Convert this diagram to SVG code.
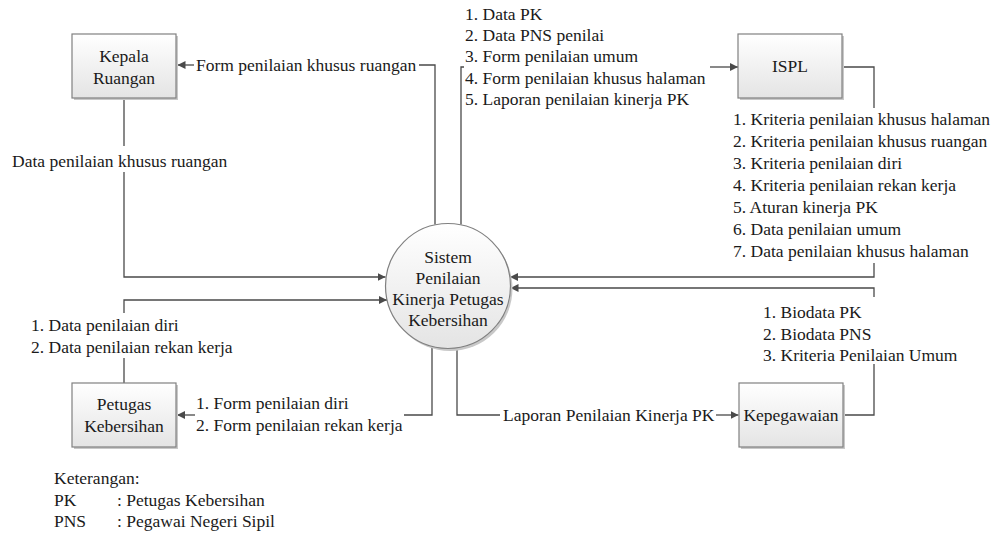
<svg xmlns="http://www.w3.org/2000/svg" width="995" height="534" viewBox="0 0 995 534" font-family="'Liberation Serif', 'Times New Roman', serif">
<defs>
<linearGradient id="g" x1="0" y1="0" x2="0" y2="1">
<stop offset="0" stop-color="#ffffff"/>
<stop offset="1" stop-color="#e4e4e4"/>
</linearGradient>
<marker id="arr" viewBox="0 0 10 10" refX="10" refY="5" markerWidth="8" markerHeight="8" markerUnits="userSpaceOnUse" orient="auto">
<path d="M0,0 L10,5 L0,10 z" fill="#4a4a4a"/>
</marker>
</defs>
<style>
text{font-family:"Liberation Serif","Times New Roman",serif;font-size:17.5px;fill:#1a1a1a}
.c{text-anchor:middle}
.box{fill:url(#g);stroke:#808080;stroke-width:1.2}
.sh{fill:#c8c8c8}
.ln{fill:none;stroke:#4a4a4a;stroke-width:1.3}
</style>
<rect width="995" height="534" fill="#fff"/>

<g id="connectors">
<path class="ln" d="M435,224.5 V65 H419"/>
<path class="ln" d="M194,65 H177.5" marker-end="url(#arr)"/>
<path class="ln" d="M124,98 V146"/>
<path class="ln" d="M124,172 V277 H385.5" marker-end="url(#arr)"/>
<path class="ln" d="M461,224.5 V67 H464"/>
<path class="ln" d="M710,67 H738" marker-end="url(#arr)"/>
<path class="ln" d="M843,67 H874 V108"/>
<path class="ln" d="M874,263 V277 H510" marker-end="url(#arr)"/>
<path class="ln" d="M843,415 H874 V364"/>
<path class="ln" d="M874,297 V288 H510.5" marker-end="url(#arr)"/>
<path class="ln" d="M457,347.8 V415 H500"/>
<path class="ln" d="M716,415 H738.5" marker-end="url(#arr)"/>
<path class="ln" d="M432,346.5 V415 H404"/>
<path class="ln" d="M195,415 H177" marker-end="url(#arr)"/>
<path class="ln" d="M124,383 V358"/>
<path class="ln" d="M124,313 V300 H387" marker-end="url(#arr)"/>
</g>

<g id="labels">
<text x="196" y="71">Form penilaian khusus ruangan</text>
<text x="12" y="167">Data penilaian khusus ruangan</text>
<text x="465" y="20">1. Data PK</text>
<text x="465" y="41">2. Data PNS penilai</text>
<text x="465" y="62">3. Form penilaian umum</text>
<text x="465" y="83.5">4. Form penilaian khusus halaman</text>
<text x="465" y="104.5">5. Laporan penilaian kinerja PK</text>
<text x="733" y="124.5">1. Kriteria penilaian khusus halaman</text>
<text x="733" y="146.5">2. Kriteria penilaian khusus ruangan</text>
<text x="733" y="168.5">3. Kriteria penilaian diri</text>
<text x="733" y="190.5">4. Kriteria penilaian rekan kerja</text>
<text x="733" y="212.5">5. Aturan kinerja PK</text>
<text x="733" y="234.5">6. Data penilaian umum</text>
<text x="733" y="256.5">7. Data penilaian khusus halaman</text>
<text x="763" y="318">1. Biodata PK</text>
<text x="763" y="339.5">2. Biodata PNS</text>
<text x="763" y="361">3. Kriteria Penilaian Umum</text>
<text x="31" y="331">1. Data penilaian diri</text>
<text x="31" y="353">2. Data penilaian rekan kerja</text>
<text x="196" y="409">1. Form penilaian diri</text>
<text x="196" y="431">2. Form penilaian rekan kerja</text>
<text x="503" y="421">Laporan Penilaian Kinerja PK</text>
</g>

<g id="sistem">
<circle cx="450" cy="288.5" r="62.5" class="sh"/>
<circle cx="448" cy="286" r="62.5" class="box" stroke="#555"/>
<text class="c" x="448" y="263">Sistem</text>
<text class="c" x="448" y="284">Penilaian</text>
<text class="c" x="448" y="305">Kinerja Petugas</text>
<text class="c" x="448" y="326">Kebersihan</text>
</g>

<g id="kepala-ruangan">
<rect x="74" y="36" width="104" height="64" class="sh"/>
<rect x="72" y="34" width="104" height="64" class="box"/>
<text class="c" x="124" y="62">Kepala</text>
<text class="c" x="124" y="84">Ruangan</text>
</g>

<g id="ispl">
<rect x="740" y="36" width="104" height="64" class="sh"/>
<rect x="738" y="34" width="104" height="64" class="box"/>
<text class="c" x="790" y="72">ISPL</text>
</g>

<g id="petugas-kebersihan">
<rect x="74" y="385" width="104" height="64" class="sh"/>
<rect x="72" y="383" width="104" height="64" class="box"/>
<text class="c" x="124" y="410">Petugas</text>
<text class="c" x="124" y="432">Kebersihan</text>
</g>

<g id="kepegawaian">
<rect x="741" y="385" width="104" height="64" class="sh"/>
<rect x="739" y="383" width="104" height="64" class="box"/>
<text class="c" x="791" y="421">Kepegawaian</text>
</g>

<g id="keterangan">
<text x="54" y="484">Keterangan:</text>
<text x="54" y="506">PK</text>
<text x="117" y="506">: Petugas Kebersihan</text>
<text x="54" y="527">PNS</text>
<text x="117" y="527">: Pegawai Negeri Sipil</text>
</g>
</svg>
